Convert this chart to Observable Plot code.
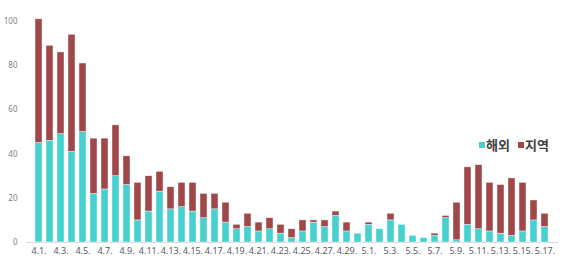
<!DOCTYPE html>
<html>
<head>
<meta charset="utf-8">
<script src="https://cdn.jsdelivr.net/npm/d3@7"></script>
<script src="https://cdn.jsdelivr.net/npm/@observablehq/plot@0.6"></script>
<style>
  body { margin: 0; background: #fff; }
  #wrap { position: relative; width: 568px; height: 264px; }
  #legend { position: absolute; left: 479px; top: 135px; font-family: "Noto Sans CJK KR", sans-serif; font-size: 13px; font-weight: bold; color: #404040; display: flex; align-items: center; white-space: nowrap; }
  #legend .sw { display: inline-block; width: 6px; height: 6px; margin-right: 1px; }
  #legend .item { display: flex; align-items: center; margin-right: 8px; }
</style>
</head>
<body>
<div id="wrap"><div id="legend"></div></div>
<script>
const dates = [
  "4.1.","4.2.","4.3.","4.4.","4.5.","4.6.","4.7.","4.8.","4.9.","4.10.",
  "4.11.","4.12.","4.13.","4.14.","4.15.","4.16.","4.17.","4.18.","4.19.","4.20.",
  "4.21.","4.22.","4.23.","4.24.","4.25.","4.26.","4.27.","4.28.","4.29.","4.30.",
  "5.1.","5.2.","5.3.","5.4.","5.5.","5.6.","5.7.","5.8.","5.9.","5.10.",
  "5.11.","5.12.","5.13.","5.14.","5.15.","5.16.","5.17."
];
const overseas = [45,46,49,41,50,22,24,30,26,10,14,23,15,16,14,
                  11,15,9,6,7,5,6,4,2,5,9,7,12,5,4,
                  8,6,10,8,3,2,3,11,1,8,6,5,4,3,5,10,7];
const local = [56,43,37,53,31,25,23,23,13,17,16,9,10,11,13,
               11,7,9,2,6,4,5,4,4,5,1,3,2,4,0,
               1,0,3,0,0,0,1,1,17,26,29,22,22,26,22,9,6];
const seriesNames = ["해외", "지역"];
const seriesColors = ["#46D1D0", "#A04749"];
const yTicks = [0, 20, 40, 60, 80, 100];
const xTicks = dates.filter((d, i) => i % 2 === 0);

const rows = [];
dates.forEach((d, i) => {
  rows.push({date: d, series: seriesNames[0], value: overseas[i]});
  rows.push({date: d, series: seriesNames[1], value: local[i]});
});

const chart = Plot.plot({
  width: 568,
  height: 264,
  marginLeft: 26,
  marginRight: 10,
  marginTop: 21,
  marginBottom: 22,
  style: {fontFamily: "Noto Sans, sans-serif", background: "#fff"},
  x: {domain: dates, padding: 0.36, axis: null},
  y: {domain: [0, 100], axis: null},
  color: {domain: seriesNames, range: seriesColors},
  marks: [
    Plot.ruleY([0], {stroke: "#d9d9d9"}),
    Plot.barY(rows, Plot.stackY({order: seriesNames}, {x: "date", y: "value", fill: "series", stroke: "#fff", strokeWidth: 0.6, strokeOpacity: 0.7})),
    Plot.axisX({ticks: xTicks, tickSize: 0, tickPadding: 5, fontSize: 9, fill: "#595959", label: null}),
    Plot.axisY({ticks: yTicks, tickSize: 0, tickPadding: 9, fontSize: 8, fill: "#7f7f7f", label: null})
  ]
});
document.getElementById("wrap").prepend(chart);

const legend = document.getElementById("legend");
seriesNames.forEach((n, i) => {
  const item = document.createElement("span");
  item.className = "item";
  const sw = document.createElement("span");
  sw.className = "sw";
  sw.style.background = seriesColors[i];
  item.appendChild(sw);
  item.appendChild(document.createTextNode(n));
  legend.appendChild(item);
});
</script>
</body>
</html>
